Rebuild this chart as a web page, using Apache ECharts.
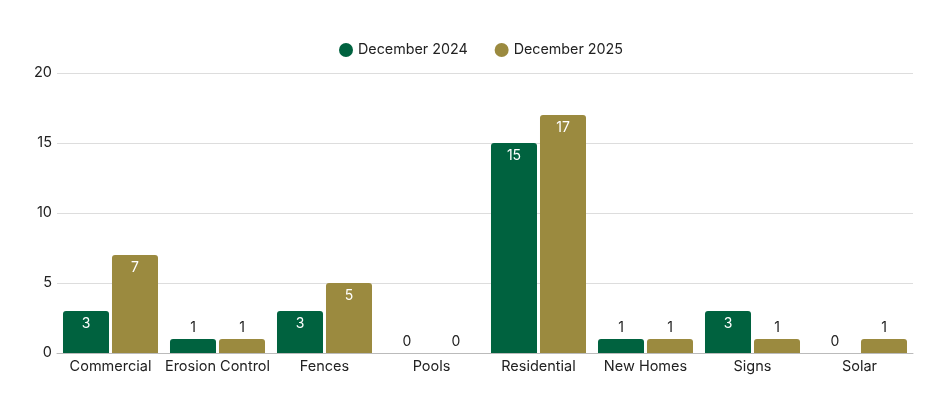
<!DOCTYPE html>
<html><head><meta charset="utf-8">
<script src="https://cdn.jsdelivr.net/npm/echarts@6/dist/echarts.min.js"></script>
<style>html,body{margin:0;padding:0;background:#fff}#c{width:943px;height:408px}</style>
</head><body><div id="c"></div>
<script>
const categories = ["Commercial","Erosion Control","Fences","Pools","Residential","New Homes","Signs","Solar"];
const dec2024 = [3,1,3,0,15,1,3,0];
const dec2025 = [7,1,5,0,17,1,1,1];
const yTicks = [0,5,10,15,20];

const FONT = "Inter";
function mk(vals){
  return vals.map(v => ({
    value: v,
    label: v >= 3
      ? {position:'insideTop', color:'#fff', distance:6}
      : {position:'top', color:'#222', distance:4}
  }));
}
const chart = echarts.init(document.getElementById('c'));
chart.setOption({
  animation:false,
  textStyle:{fontFamily:FONT},
  legend:{
    top:38, left:334, icon:'circle', itemWidth:14, itemHeight:14, itemGap:27,
    textStyle:{fontFamily:FONT, fontSize:14.3, color:'#222'},
    data:['December 2024','December 2025']
  },
  grid:{left:57, right:30, top:73, bottom:55},
  xAxis:{
    type:'category', data:categories,
    axisTick:{show:false},
    axisLine:{lineStyle:{color:'#bbb'}},
    axisLabel:{fontFamily:FONT, fontSize:14.5, color:'#222', margin:6, interval:0}
  },
  yAxis:{
    type:'value', min:yTicks[0], max:yTicks[yTicks.length-1], interval:5,
    axisLabel:{fontFamily:FONT, fontSize:14.5, color:'#222', margin:5},
    splitLine:{lineStyle:{color:'#ddd'}},
    axisLine:{show:false}, axisTick:{show:false}
  },
  series:[
    {name:'December 2024', type:'bar', data:mk(dec2024), barWidth:'43%', barGap:'6.5%',
     itemStyle:{color:'#00623F', borderRadius:[3,3,0,0]},
     label:{show:true, fontFamily:FONT, fontSize:14}},
    {name:'December 2025', type:'bar', data:mk(dec2025), barWidth:'43%',
     itemStyle:{color:'#9B8A3F', borderRadius:[3,3,0,0]},
     label:{show:true, fontFamily:FONT, fontSize:14}}
  ]
});
</script></body></html>
